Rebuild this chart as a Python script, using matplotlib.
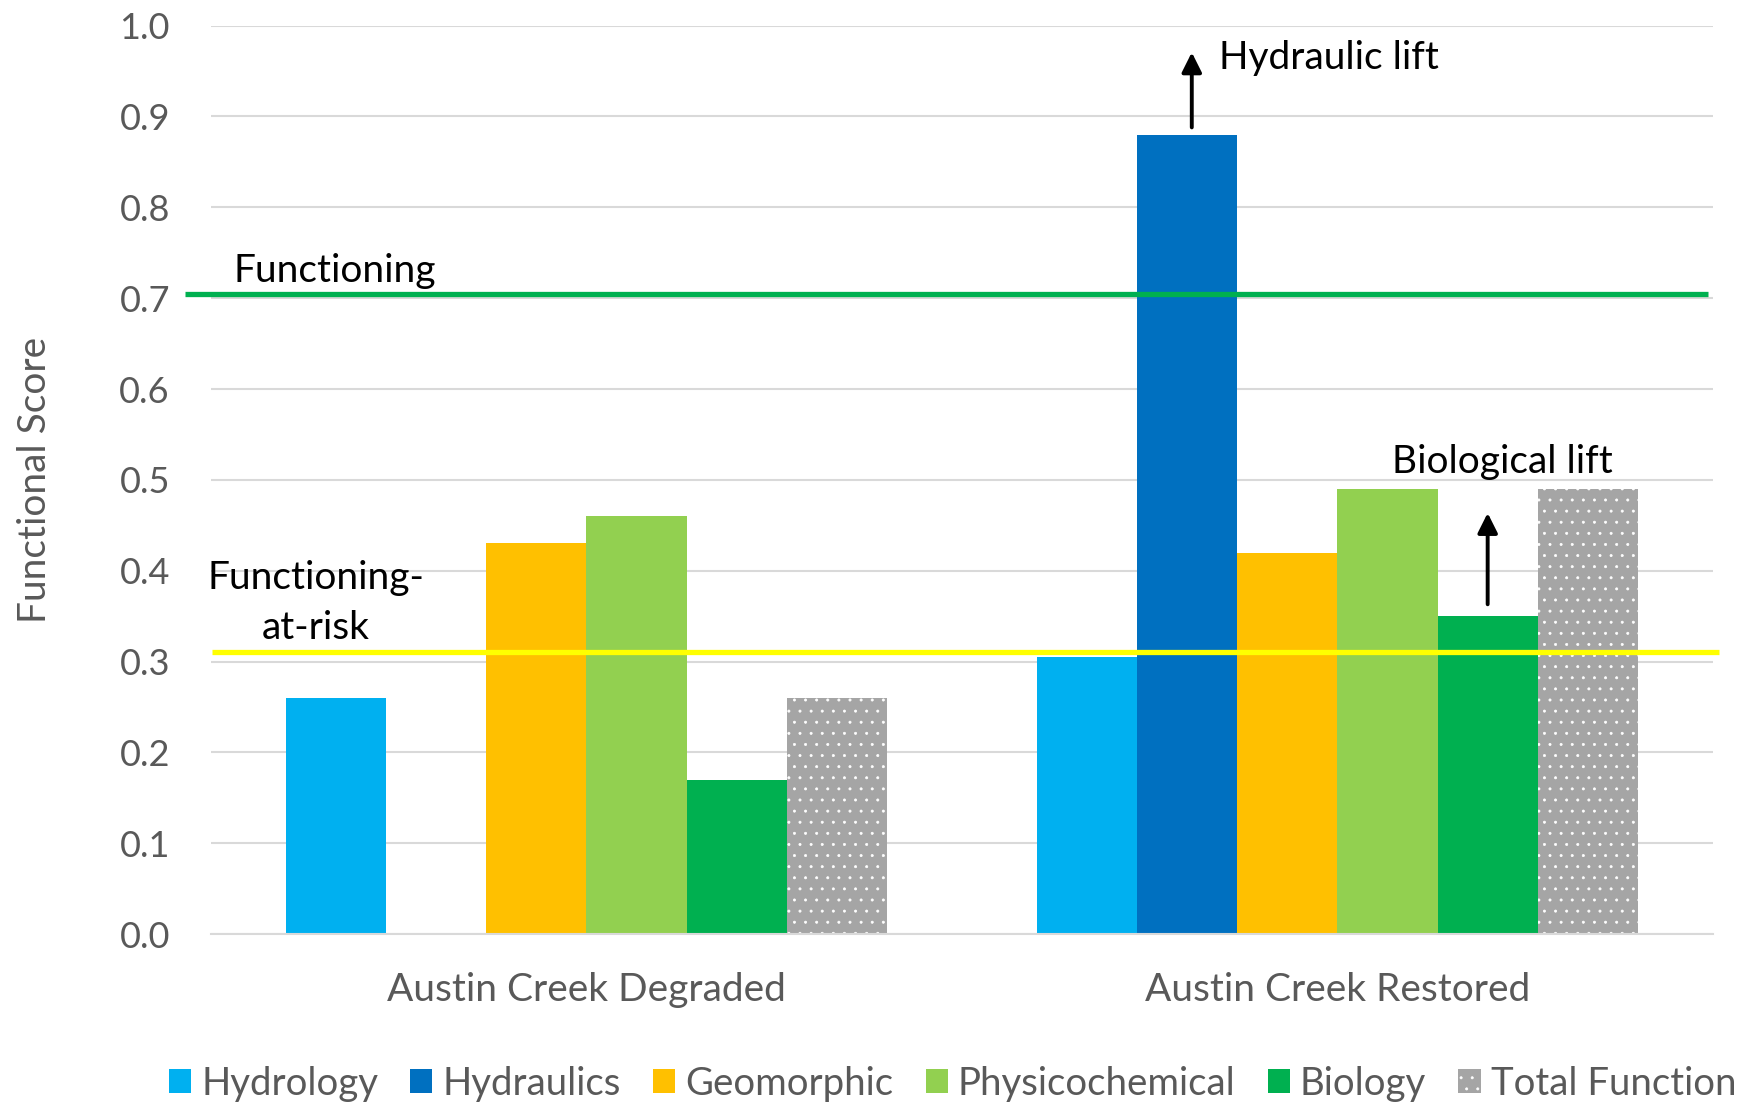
import matplotlib
matplotlib.use("Agg")
import matplotlib.pyplot as plt
import numpy as np

plt.rcParams['font.family'] = ['Lato', 'DejaVu Sans']
plt.rcParams['hatch.linewidth'] = 0.25

categories = ["Austin Creek Degraded", "Austin Creek Restored"]
series_names = ["Hydrology", "Hydraulics", "Geomorphic", "Physicochemical", "Biology", "Total Function"]
hydrology = [0.26, 0.305]
hydraulics = [np.nan, 0.88]
geomorphic = [0.43, 0.42]
physicochemical = [0.46, 0.49]
biology = [0.17, 0.35]
total_function = [0.26, 0.49]
y_ticks = [0.0, 0.1, 0.2, 0.3, 0.4, 0.5, 0.6, 0.7, 0.8, 0.9, 1.0]
functioning_level = 0.705
at_risk_level = 0.31

series = [hydrology, hydraulics, geomorphic, physicochemical, biology, total_function]
colors = ["#00B0F0", "#0070C0", "#FFC000", "#92D050", "#00B050", "#A5A5A5"]

fig = plt.figure(figsize=(8.77, 5.53), dpi=200)
ax = fig.add_axes([0.1203, 0.1555, 0.8563, 0.8213])

n = len(series)
width = 1.0 / (n + 1.5)
x = np.arange(len(categories))
handles = []
for i, (vals, col, name) in enumerate(zip(series, colors, series_names)):
    off = (i - (n - 1) / 2) * width
    if name == "Total Function":
        b = ax.bar(x + off, vals, width, color=col, edgecolor="white", linewidth=0,
                   hatch="...", label=name, zorder=2)
    else:
        b = ax.bar(x + off, vals, width, color=col, linewidth=0, label=name, zorder=2)
    handles.append(b)

ax.set_xlim(-0.5, 1.5)
ax.set_ylim(0, 1.0)
ax.set_yticks(y_ticks)
ax.set_yticklabels([f"{v:.1f}" for v in y_ticks])
ax.set_xticks(x)
ax.set_xticklabels(categories)
ax.yaxis.grid(True, color="#D9D9D9", linewidth=0.75, zorder=0)
ax.set_axisbelow(True)
for s in ["top", "right", "left"]:
    ax.spines[s].set_visible(False)
ax.spines["bottom"].set_color("#D9D9D9")
ax.spines["bottom"].set_linewidth(0.75)
ax.tick_params(axis="y", length=0, pad=14.8, labelsize=13, labelcolor="#595959")
ax.tick_params(axis="x", length=0, pad=13.5, labelsize=14, labelcolor="#595959")
ax.set_ylabel("Functional Score", fontsize=14, color="#595959")
ax.yaxis.set_label_coords(-0.105, 0.5)

# threshold lines
trans = ax.get_yaxis_transform()
ax.plot([-0.0173, 0.997], [functioning_level] * 2, color="#00B050", lw=1.9,
        transform=trans, clip_on=False, zorder=4, solid_capstyle="butt")
ax.plot([0.0007, 1.004], [at_risk_level] * 2, color="#FFFF00", lw=1.9,
        transform=trans, clip_on=False, zorder=4, solid_capstyle="butt")

# annotations
ax.text(-0.4707, 0.7178, "Functioning", fontsize=14, color="black", ha="left", va="baseline", zorder=5)
ax.text(-0.360, 0.3803, "Functioning-", fontsize=14, color="black", ha="center", va="baseline", zorder=5)
ax.text(-0.360, 0.3253, "at-risk", fontsize=14, color="black", ha="center", va="baseline", zorder=5)
ax.text(0.842, 0.9524, "Hydraulic lift", fontsize=14, color="black", ha="left", va="baseline", zorder=5)
ax.text(1.0726, 0.507, "Biological lift", fontsize=14, color="black", ha="left", va="baseline", zorder=5)

arrow = dict(arrowstyle="-|>,head_length=0.5,head_width=0.25", color="black", lw=1.4, mutation_scale=12,
             shrinkA=0, shrinkB=0)
ax.annotate("", xy=(0.806, 0.9706), xytext=(0.806, 0.888), arrowprops=arrow, zorder=5)
ax.annotate("", xy=(1.2, 0.4635), xytext=(1.2, 0.363), arrowprops=arrow, zorder=5)

fig.legend(handles, series_names, loc="center", bbox_to_anchor=(0.543, 0.02), ncol=6,
           frameon=False, fontsize=13.8, labelcolor="#595959", handlelength=0.58, handleheight=0.58,
           handletextpad=0.26, columnspacing=0.84, borderaxespad=0, borderpad=0)

fig.savefig("out.png", dpi=200)
